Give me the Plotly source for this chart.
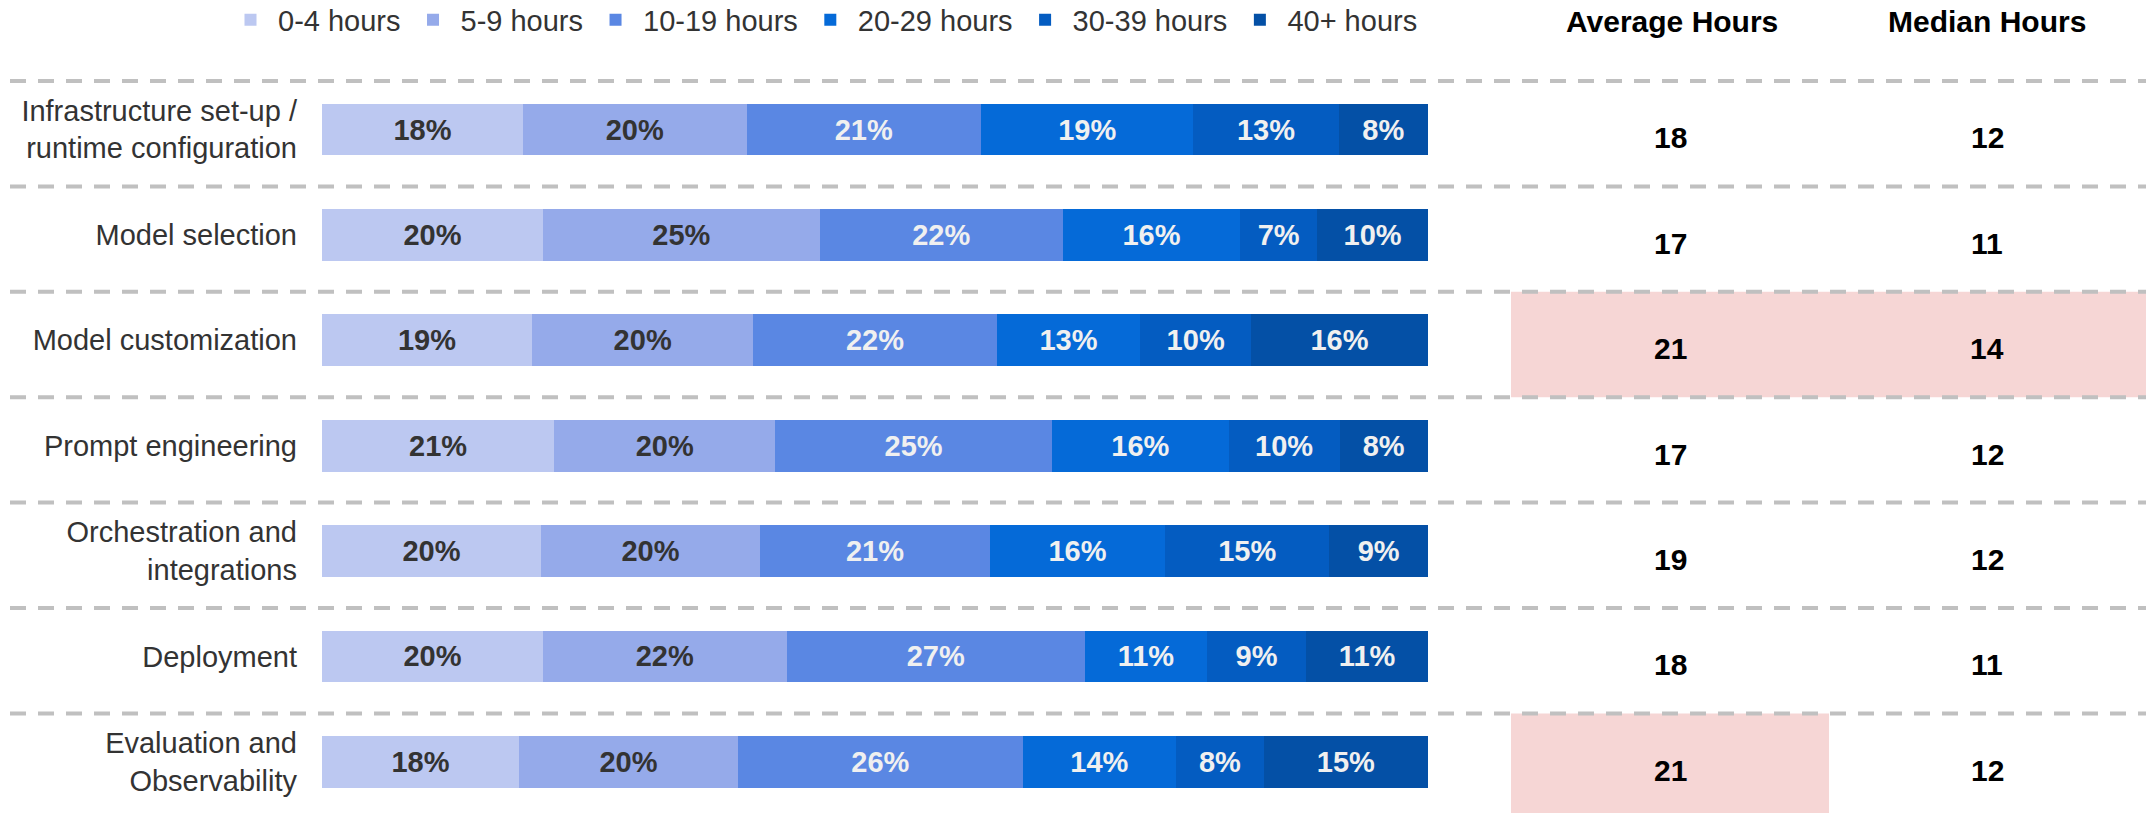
import plotly.graph_objects as go

categories = [
    "Infrastructure set-up /<br>runtime configuration",
    "Model selection",
    "Model customization",
    "Prompt engineering",
    "Orchestration and<br>integrations",
    "Deployment",
    "Evaluation and<br>Observability",
]
series_names = ["0-4 hours", "5-9 hours", "10-19 hours", "20-29 hours", "30-39 hours", "40+ hours"]
h_0_4 = [18, 20, 19, 21, 20, 20, 18]
h_5_9 = [20, 25, 20, 20, 20, 22, 20]
h_10_19 = [21, 22, 22, 25, 21, 27, 26]
h_20_29 = [19, 16, 13, 16, 16, 11, 14]
h_30_39 = [13, 7, 10, 10, 15, 9, 8]
h_40_plus = [8, 10, 16, 8, 9, 11, 15]
average_hours = [18, 17, 21, 17, 19, 18, 21]
median_hours = [12, 11, 14, 12, 12, 11, 12]
highlight_avg = [False, False, True, False, False, False, True]
highlight_med = [False, False, True, False, False, False, False]

colors = ["#BCC8F1", "#95AAEA", "#5A87E3", "#056AD8", "#045CC1", "#0450A6"]
text_colors = ["#333333", "#333333", "#F0F0F0", "#F0F0F0", "#F0F0F0", "#F0F0F0"]

series = [h_0_4, h_5_9, h_10_19, h_20_29, h_30_39, h_40_plus]
row_sums = [sum(s[i] for s in series) for i in range(len(categories))]

FONT = "Liberation Sans, Arial, sans-serif"
fig = go.Figure()
for name, vals, col, tcol in zip(series_names, series, colors, text_colors):
    fig.add_trace(go.Bar(
        y=categories,
        x=[v / row_sums[i] * 100 for i, v in enumerate(vals)],
        text=[f"{v}%" for v in vals],
        textposition="inside",
        insidetextanchor="middle",
        textangle=0,
        textfont=dict(family=FONT, size=29, color=tcol, weight="bold"),
        orientation="h",
        name=name,
        width=0.49,
        marker=dict(color=col, line=dict(width=0)),
        hoverinfo="skip",
    ))

top_idx = -1.2287
bot_idx = 6.485
shapes = []
# highlight boxes (below)
for i in range(len(categories)):
    y0 = i - 0.46
    y1 = i + 0.54 if i < len(categories) - 1 else bot_idx + 0.5
    if highlight_avg[i]:
        shapes.append(dict(type="rect", xref="paper", yref="y", x0=1511 / 2146,
                           x1=(1829 / 2146 if not highlight_med[i] else 1.0),
                           y0=y0, y1=y1, fillcolor="#F6D6D5", line=dict(width=0), layer="below"))
# dashed separators
for i in range(len(categories)):
    shapes.append(dict(type="line", xref="paper", yref="y", x0=10 / 2146, x1=1.0,
                       y0=i - 0.46, y1=i - 0.46,
                       line=dict(color="#C0C0C0", width=4, dash="16px,12px"), layer="above"))

AVG_X = 1670 / 2146
MED_X = 1987 / 2146
annotations = []
for i in range(len(categories)):
    annotations.append(dict(xref="paper", yref="y", x=AVG_X, y=i + 0.08, xanchor="center",
                            yanchor="middle", text=f"<b>{average_hours[i]}</b>", showarrow=False,
                            font=dict(family=FONT, size=30, color="#000000")))
    annotations.append(dict(xref="paper", yref="y", x=MED_X, y=i + 0.08, xanchor="center",
                            yanchor="middle", text=f"<b>{median_hours[i]}</b>", showarrow=False,
                            font=dict(family=FONT, size=30, color="#000000")))
annotations.append(dict(xref="paper", yref="paper", x=1672 / 2146, y=1 - 22 / 813,
                        xanchor="center", yanchor="middle", text="<b>Average Hours</b>",
                        showarrow=False, font=dict(family=FONT, size=30, color="#000000")))
annotations.append(dict(xref="paper", yref="paper", x=MED_X, y=1 - 22 / 813,
                        xanchor="center", yanchor="middle", text="<b>Median Hours</b>",
                        showarrow=False, font=dict(family=FONT, size=30, color="#000000")))

fig.update_layout(
    width=2146, height=813,
    margin=dict(l=0, r=0, t=0, b=0, autoexpand=False),
    barmode="stack",
    plot_bgcolor="white", paper_bgcolor="white",
    shapes=shapes,
    annotations=annotations,
    uniformtext=dict(minsize=29, mode="show"),
    legend=dict(orientation="h", x=223 / 2146, y=1.007, xanchor="left", yanchor="top",
                font=dict(family=FONT, size=29, color="#333333"),
                traceorder="normal", itemwidth=45, bgcolor="rgba(0,0,0,0)"),
    xaxis=dict(domain=[322 / 2146, 1428 / 2146], range=[0, 100], visible=False, fixedrange=True),
    yaxis=dict(type="category", categoryorder="array", categoryarray=categories,
               range=[bot_idx, top_idx], domain=[0, 1], showgrid=False, zeroline=False,
               showline=False, ticks="", ticklabelstandoff=24, fixedrange=True,
               tickfont=dict(family=FONT, size=29, color="#333333")),
    font=dict(family=FONT),
)

fig.write_html("out.html", config={"displayModeBar": False},
               post_script="document.body.style.margin='0';")
